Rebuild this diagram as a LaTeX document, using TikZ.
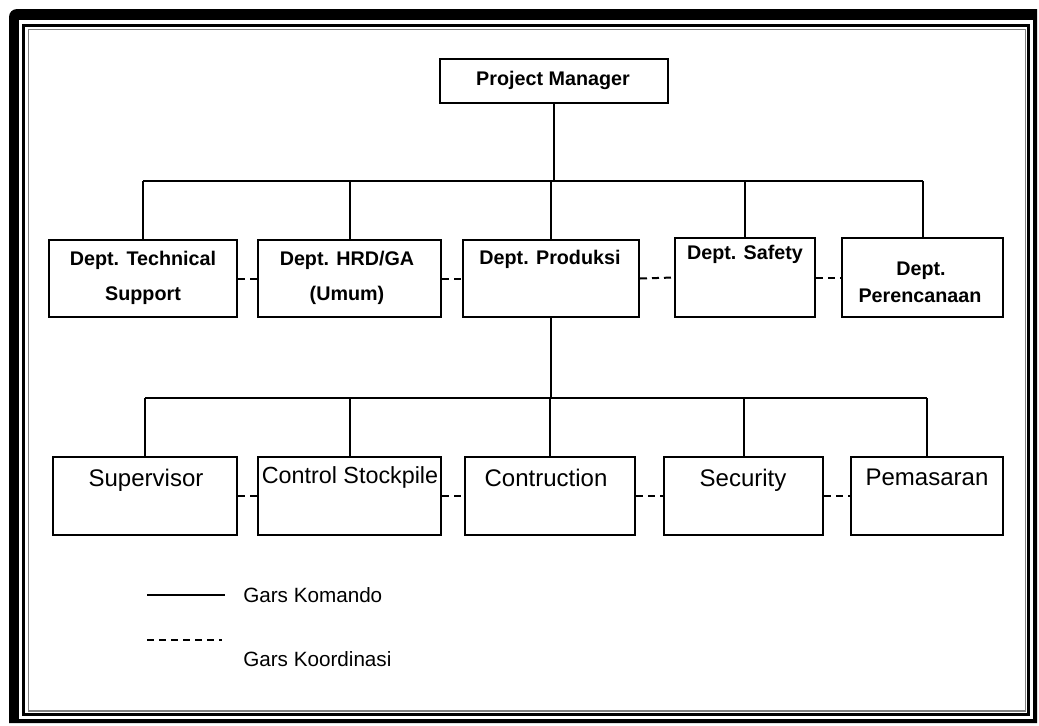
\documentclass[tikz,border=0pt]{standalone}
\usepackage{fontspec}
\setmainfont{Liberation Sans}
\begin{document}
\begin{tikzpicture}[x=0.75pt,y=-0.75pt,
  box/.style={draw=black,line width=1.5pt,fill=white,inner sep=0pt,minimum height=58.5pt},
  btxt/.style={inner sep=0pt,anchor=base,font=\fontsize{14.8}{17}\selectfont\bfseries},
  rtxt/.style={inner sep=0pt,anchor=base,font=\fontsize{18}{20}\selectfont},
  ltxt/.style={inner sep=0pt,anchor=base west,font=\fontsize{15.5}{18}\selectfont},
  cmd/.style={line width=1.5pt},
  coord/.style={line width=1.5pt,dash pattern=on 5.25pt off 3.75pt}]
\useasboundingbox (0,0) rectangle (1039,725);
% frame
\fill[black] (9,723) -- (9,17) arc[start angle=180,end angle=270,radius=8] -- (1037,9) -- (1037,723) -- cycle;
\fill[white] (19,20) rectangle (1033,719);
\draw[line width=2.25pt] (23.5,25) rectangle (1028.5,714.5);
\draw[gray,line width=1.2pt] (28.5,29.5) rectangle (1025.5,711);
% boxes
\node[box,minimum width=171pt,minimum height=33pt] (pm) at (554,81) {};
\node[box,minimum width=141pt,minimum height=57.75pt] (tech) at (143,278.5) {};
\node[box,minimum width=137.25pt,minimum height=57.75pt] (hrd) at (349.5,278.5) {};
\node[box,minimum width=132pt,minimum height=57.75pt] (prod) at (551,278.5) {};
\node[box,minimum width=105pt,minimum height=59.25pt] (safe) at (745,277.5) {};
\node[box,minimum width=120.75pt,minimum height=59.25pt] (perc) at (922.5,277.5) {};
\node[box,minimum width=138pt] (sup) at (145,496) {};
\node[box,minimum width=137.25pt] (ctrl) at (349.5,496) {};
\node[box,minimum width=127.5pt] (cont) at (550,496) {};
\node[box,minimum width=119.25pt] (sec) at (743.5,496) {};
\node[box,minimum width=114pt] (pem) at (927,496) {};
% texts
\node[btxt] (pmt) at (553,85) {Project Manager};
\node[btxt] (techt1) at (143,265) {Dept. Technical};
\node[btxt] (techt2) at (143,300) {Support};
\node[btxt] (hrdt1) at (347,265) {Dept. HRD/GA};
\node[btxt] (hrdt2) at (347,300) {(Umum)};
\node[btxt] (prodt) at (550,264) {Dept. Produksi};
\node[btxt] (safet) at (745,259) {Dept. Safety};
\node[btxt] (perct1) at (921,275) {Dept.};
\node[btxt] (perct2) at (920,302) {Perencanaan};
\node[rtxt] (supt) at (146,486) {Supervisor};
\node[rtxt,font=\fontsize{17.5}{20}\selectfont] (ctrlt) at (350,483) {Control Stockpile};
\node[rtxt] (contt) at (546,486) {Contruction};
\node[rtxt] (sect) at (743,486) {Security};
\node[rtxt] (pemt) at (927,485) {Pemasaran};
% command lines
\coordinate (bus1) at (552,181);
\coordinate (bus2) at (552,398);
\draw[cmd] (pm.south) -- (pm.south |- bus1);
\draw[cmd] (tech.north |- bus1) -- (perc.north |- bus1);
\foreach \n in {tech,hrd,prod,safe,perc} \draw[cmd] (\n.north) -- (\n.north |- bus1);
\draw[cmd] (prod.south) -- (prod.south |- bus2);
\draw[cmd] (sup.north |- bus2) -- (pem.north |- bus2);
\foreach \n in {sup,ctrl,cont,sec,pem} \draw[cmd] (\n.north) -- (\n.north |- bus2);
% coordination lines
\draw[coord] (tech.east) -- (hrd.west);
\draw[coord] (hrd.east) -- (prod.west);
\draw[coord] (prod.east) -- (safe.west);
\draw[coord] (safe.east) -- (perc.west);
\draw[coord] (sup.east) -- (ctrl.west);
\draw[coord] (ctrl.east) -- (cont.west);
\draw[coord] (cont.east) -- (sec.west);
\draw[coord] (sec.east) -- (pem.west);
% legend
\coordinate (la1) at (147,595);
\coordinate (la2) at (225,595);
\coordinate (lb1) at (147,640);
\coordinate (lb2) at (222,640);
\draw[line width=1.2pt] (la1) -- (la2);
\draw[line width=1.2pt,dash pattern=on 5.25pt off 3.75pt] (lb1) -- (lb2);
\node[ltxt] (lt1) at (243,602) {Gars Komando};
\begin{scope}
\clip (230,640) rectangle (430,666);
\node[ltxt] (lt2) at (243,666) {Gars Koordinasi};
\end{scope}
\end{tikzpicture}
\end{document}
